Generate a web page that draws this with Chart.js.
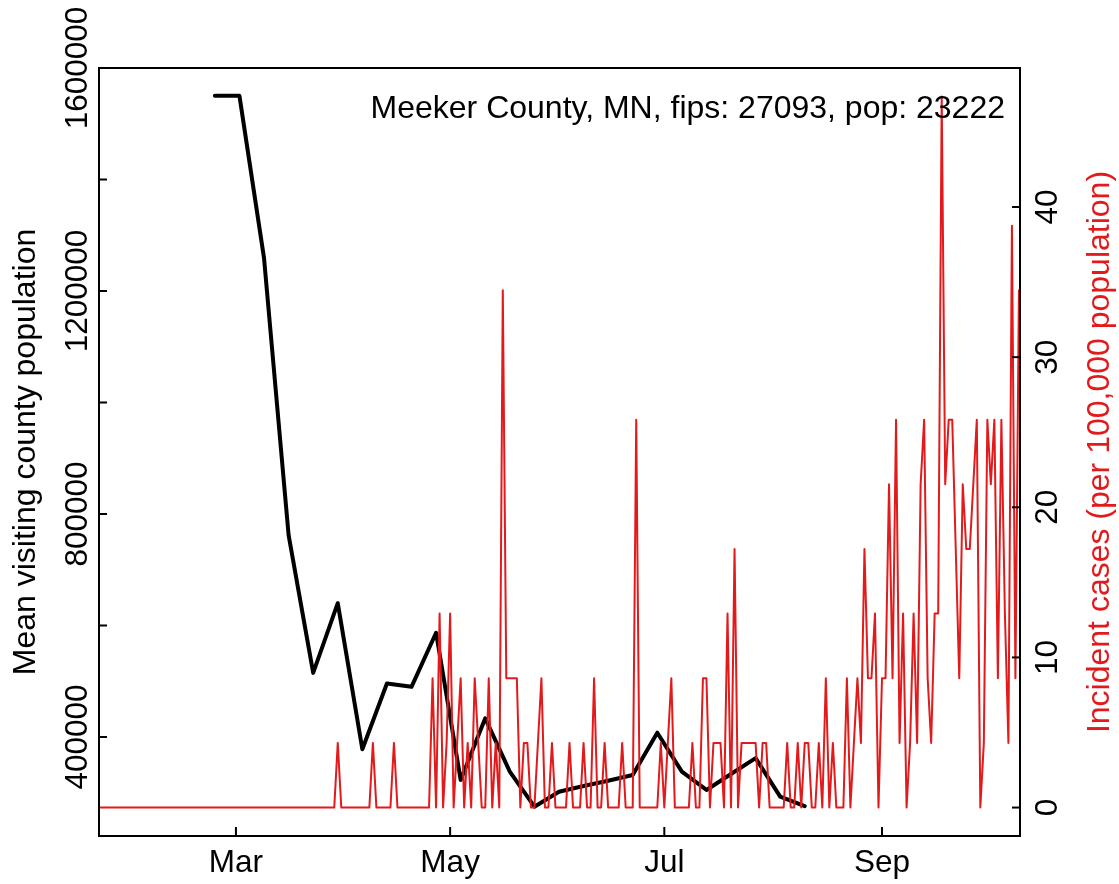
<!DOCTYPE html>
<html><head><meta charset="utf-8">
<script src="https://cdn.jsdelivr.net/npm/chart.js@4/dist/chart.umd.min.js"></script>
<style>html,body{margin:0;padding:0;background:#fff;}#wrap{width:1119px;height:884px;position:relative;}</style>
</head><body><div id="wrap"><canvas id="c" width="1119" height="884"></canvas></div>
<script>
// ---- data ----
const countyPop = 23222;
const annotation = 'Meeker County, MN, fips: 27093, pop: 23222';
const leftTitle = 'Mean visiting county population';
const rightTitle = 'Incident cases (per 100,000 population)';

// daily new cases starting 2020-01-22
const caseStartDate = '2020-01-22';
const caseCounts = [
  0,0,0,0,0,0,0,0,0,0,
  0,0,0,0,0,0,0,0,0,0,
  0,0,0,0,0,0,0,0,0,0,
  0,0,0,0,0,0,0,0,0,0,
  0,0,0,0,0,0,0,0,0,0,
  0,0,0,0,0,0,0,0,0,0,
  0,0,0,0,0,0,0,0,1,0,
  0,0,0,0,0,0,0,0,1,0,
  0,0,0,0,1,0,0,0,0,0,
  0,0,0,0,0,2,0,3,0,1,
  3,0,1,2,0,1,0,2,1,0,
  0,2,0,1,0,8,2,2,2,2,
  0,1,1,0,0,1,2,0,0,1,
  0,0,0,0,1,0,0,0,1,0,
  0,2,0,0,1,0,0,0,0,1,
  0,0,0,6,0,0,0,0,0,0,
  1,0,1,2,0,0,0,0,0,1,
  0,0,2,2,0,1,1,1,0,3,
  0,4,0,1,1,1,1,1,0,1,
  1,0,0,0,0,0,1,0,0,1,
  0,1,1,0,0,1,0,2,0,1,
  0,0,0,2,0,1,2,1,4,2,
  2,3,0,2,2,5,2,6,1,3,
  0,1,3,1,5,6,2,1,3,3,
  11,5,6,6,4,2,5,4,4,5,
  6,0,1,6,5,6,2,6,3,1,9,2,8
];

// weekly mean visiting county population starting 2020-02-24
const visitStartDate = '2020-02-24';
const visitPop = [1550000,1550000,1259000,762000,515000,640000,378000,496000,490000,587000,
  323000,433500,337800,275000,301800,312100,321600,331800,407700,337800,
  305000,333600,362000,293000,276000];

const xTickDates = ['2020-03-01','2020-05-01','2020-07-01','2020-09-01'];
const xTickLabels = ['Mar','May','Jul','Sep'];
const leftTicks = [400000,600000,800000,1000000,1200000,1400000,1600000];
const leftTickLabels = ['400000','','800000','','1200000','','1600000'];
const rightTicks = [0,10,20,30,40];
const rightTickLabels = ['0','10','20','30','40'];

// ---- helpers ----
function dayNum(s){const p=s.split('-').map(Number);return (Date.UTC(p[0],p[1]-1,p[2])-Date.UTC(2020,0,1))/864e5;}
const caseStart = dayNum(caseStartDate);
const visitStart = dayNum(visitStartDate);
const casePoints = caseCounts.map((c,i)=>({x:caseStart+i, y:c/countyPop*1e5}));
const visitPoints = visitPop.map((v,i)=>({x:visitStart+7*i, y:v}));

const FAMILY = '"Liberation Sans", Arial, Helvetica, sans-serif';
const TICKFONT = '31.5px ' + FAMILY;
const TITLEFONT = '32px ' + FAMILY;
const RED = '#E31A1C';

const decor = {
  id:'decor',
  afterDatasetsDraw(chart){
    const {ctx, chartArea:a, scales:{x,y,y1}} = chart;
    ctx.save();
    ctx.strokeStyle='#000'; ctx.lineWidth=2;
    ctx.strokeRect(a.left,a.top,a.right-a.left,a.bottom-a.top);
    ctx.font=TICKFONT; ctx.fillStyle='#000';
    xTickDates.forEach((d,i)=>{
      const px=x.getPixelForValue(dayNum(d));
      ctx.beginPath(); ctx.moveTo(px,a.bottom); ctx.lineTo(px,a.bottom-9); ctx.stroke();
      ctx.textAlign='center'; ctx.textBaseline='alphabetic';
      ctx.fillText(xTickLabels[i],px,872);
    });
    leftTicks.forEach((v,i)=>{
      const py=y.getPixelForValue(v);
      ctx.beginPath(); ctx.moveTo(a.left,py); ctx.lineTo(a.left+8,py); ctx.stroke();
      if(leftTickLabels[i]){
        ctx.save(); ctx.translate(87,py); ctx.rotate(-Math.PI/2);
        ctx.textAlign='center'; ctx.textBaseline='alphabetic';
        ctx.fillText(leftTickLabels[i],0,0); ctx.restore();
      }
    });
    rightTicks.forEach((v,i)=>{
      const py=y1.getPixelForValue(v);
      ctx.beginPath(); ctx.moveTo(a.right,py); ctx.lineTo(a.right-8,py); ctx.stroke();
      ctx.save(); ctx.translate(1057,py); ctx.rotate(-Math.PI/2);
      ctx.textAlign='center'; ctx.textBaseline='alphabetic';
      ctx.fillText(rightTickLabels[i],0,0); ctx.restore();
    });
    const midY=(a.top+a.bottom)/2;
    ctx.font=TITLEFONT;
    ctx.save(); ctx.translate(35,midY); ctx.rotate(-Math.PI/2);
    ctx.textAlign='center'; ctx.textBaseline='alphabetic'; ctx.fillStyle='#000';
    ctx.fillText(leftTitle,0,0); ctx.restore();
    ctx.save(); ctx.translate(1109,midY); ctx.rotate(-Math.PI/2);
    ctx.textAlign='center'; ctx.textBaseline='alphabetic'; ctx.fillStyle=RED;
    ctx.fillText(rightTitle,0,0); ctx.restore();
    ctx.fillStyle='#000'; ctx.textAlign='right'; ctx.textBaseline='alphabetic';
    ctx.fillText(annotation,1005,118);
    ctx.restore();
  }
};

new Chart(document.getElementById('c'),{
  type:'line',
  data:{datasets:[
    {label:'Incident cases',data:casePoints,yAxisID:'y1',borderColor:RED,borderWidth:2,
     pointRadius:0,tension:0,fill:false,borderJoinStyle:'round',borderCapStyle:'round',order:0},
    {label:'Mean visiting county population',data:visitPoints,yAxisID:'y',borderColor:'#000',borderWidth:4,
     pointRadius:0,tension:0,fill:false,borderJoinStyle:'round',borderCapStyle:'round',order:1}
  ]},
  options:{
    responsive:false, animation:false, devicePixelRatio:1,
    layout:{padding:{left:99,right:99,top:68,bottom:48}},
    plugins:{legend:{display:false},tooltip:{enabled:false},title:{display:false}},
    scales:{
      x:{type:'linear',display:false,min:caseStart,max:caseStart+262.3},
      y:{type:'linear',display:false,min:222400,max:1600000},
      y1:{type:'linear',display:false,position:'right',min:-1.895,max:49.26}
    }
  },
  plugins:[decor]
});
</script></body></html>
